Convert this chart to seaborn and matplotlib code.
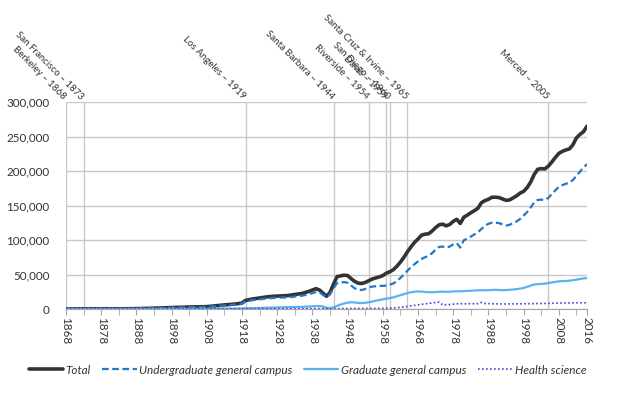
import numpy as np
import pandas as pd
import matplotlib
matplotlib.use("Agg")
import matplotlib.pyplot as plt
import seaborn as sns

years = ([1868, 1873, 1878, 1883, 1888, 1893, 1898, 1903, 1908, 1913, 1916, 1918]
         + [1919, 1921, 1923, 1925, 1927, 1929, 1931, 1933, 1935, 1937, 1939]
         + list(range(1940, 2017)))

total = [40, 300, 330, 250, 500, 1200, 2100, 2900, 3400, 5900, 7200, 8600,
         12500, 14500, 16000, 17500, 18500, 19000, 19500, 21000, 22500, 25500, 29500,
         27500, 23000, 18500, 24000, 36000, 47000, 48000, 49000, 48500, 44000,
         40000, 37500, 37000, 38500, 41000, 43500, 45000, 46500, 48500, 52000,
         54000, 57000, 62000, 68000, 75000, 83000, 90000, 96500, 101500, 107000,
         108500, 109000, 113000, 118000, 122000, 123000, 120500, 122500, 127000, 130000,
         124000, 133000, 136000, 139500, 142500, 146000, 154000, 157000, 159000, 162000,
         162000, 161500, 159500, 157500, 158000, 161000, 164000, 168000, 170500, 176000,
         184000, 195000, 202500, 203500, 203000, 207000, 213000, 219500, 225500, 228500,
         230500, 232000, 238000, 248000, 253000, 257000, 265000]

undergrad = [40, 280, 300, 230, 450, 1100, 1900, 2600, 3000, 5300, 6400, 7600,
             11000, 12800, 14000, 15300, 16000, 16500, 16800, 18000, 19200, 21500, 24500,
             24000, 20500, 17000, 21000, 30000, 37500, 38500, 39000, 38000, 34000,
             30000, 28000, 27500, 29000, 31000, 32500, 33000, 33500, 33500, 34000,
             35500, 37000, 40500, 45000, 50000, 55500, 60500, 65000, 69000, 72500,
             75000, 77000, 81000, 86000, 90000, 90500, 89000, 90500, 93500, 95500,
             89000, 99500, 102000, 105000, 108000, 111000, 116000, 120500, 123500, 125000,
             125000, 124500, 122500, 121000, 122000, 124500, 127000, 130500, 135500, 140500,
             147000, 154500, 158000, 158500, 158000, 161000, 166500, 172000, 177000, 179500,
             181500, 183000, 187000, 193000, 199000, 205000, 210000]

graduate = [0, 0, 20, 30, 60, 100, 150, 250, 350, 550, 700, 800,
            1100, 1300, 1500, 1800, 2100, 2400, 2700, 2900, 3100, 3600, 4200,
            4300, 3500, 1800, 1000, 2500, 4500, 6500, 8000, 9200, 9800,
            9500, 8800, 8600, 9000, 9700, 10800, 12000, 13000, 14000, 15000,
            15800, 16800, 18500, 20000, 21500, 23000, 24300, 25000, 25400, 25200,
            24700, 24300, 24300, 24600, 25000, 25200, 24900, 25000, 25400, 25700,
            25600, 26000, 26200, 26500, 26800, 27000, 27300, 27000, 27300, 27600,
            27800, 27500, 27300, 27500, 27800, 28200, 28800, 29500, 30500, 32000,
            34000, 35500, 36000, 36300, 36800, 37500, 38500, 39300, 40000, 40500,
            40500, 41000, 41800, 42500, 43500, 44300, 45000]

health = [0, 0, 0, 0, 0, 0, 0, 100, 150, 200, 250, 300,
          300, 350, 380, 400, 420, 450, 480, 500, 520, 560, 600,
          600, 550, 500, 500, 500, 600, 650, 700, 700, 750,
          750, 800, 800, 850, 850, 900, 900, 950, 950, 1000,
          1200, 1500, 2000, 2500, 3000, 3700, 4500, 5300, 6000, 6800,
          7500, 8000, 8800, 9500, 10000, 6000, 6200, 6500, 7000, 7500,
          7800, 7500, 7500, 7800, 7600, 7800, 9500, 8000, 7800, 7600,
          7500, 7400, 7300, 7300, 7400, 7400, 7500, 7500, 7600, 7600,
          7700, 7800, 7900, 8000, 8000, 8100, 8300, 8500, 8600, 8700,
          8800, 8800, 8900, 9000, 9000, 9000, 9000]

campus_years = [1868, 1873, 1919, 1944, 1954, 1959, 1960, 1965, 2005]
campus_labels = ["Berkeley – 1868", "San Francisco – 1873", "Los Angeles – 1919",
                 "Santa Barbara – 1944", "Riverside – 1954", "Davis – 1959",
                 "San Diego – 1960", "Santa Cruz & Irvine – 1965", "Merced – 2005"]

tick_years = list(range(1868, 2009, 10)) + [2016]
y_ticks = [0, 50000, 100000, 150000, 200000, 250000, 300000]

series_names = ["Total", "Undergraduate general campus",
                "Graduate general campus", "Health science"]
series_colors = ["#333333", "#1f78c8", "#5ab2ee", "#4a3ee0"]
series_styles = ["-", (0, (3, 1.6)), "-", (0, (1, 1.4))]
series_widths = [2.6, 1.6, 1.6, 1.2]

df = pd.DataFrame({"year": years, "Total": total,
                   "Undergraduate general campus": undergrad,
                   "Graduate general campus": graduate,
                   "Health science": health})

sns.set_style("white")
plt.rcParams["font.family"] = ["Lato", "DejaVu Sans"]

fig = plt.figure(figsize=(6.21, 3.93), dpi=100)
ax = fig.add_axes([66 / 621, 1 - 309 / 393, (587 - 66) / 621, (309 - 102) / 393])

# campus founding lines
for yr in campus_years:
    ax.axvline(yr, color="#c8c8c8", lw=1.0, zorder=0)

for name, col, ls, lw in zip(series_names, series_colors, series_styles, series_widths):
    sns.lineplot(data=df, x="year", y=name, ax=ax, color=col, linestyle=ls,
                 linewidth=lw, label=name, legend=False)

ax.set_xlim(1868, 2016)
ax.set_ylim(0, 300000)
ax.set_yticks(y_ticks)
ax.set_yticklabels([f"{v:,}" for v in y_ticks])
ax.set_xticks(tick_years)
ax.set_xticklabels([str(t) for t in tick_years], rotation=-90)
ax.set_xticks(list(range(1873, 2016, 10)), minor=True)
ax.yaxis.grid(True, color="#c8c8c8", lw=1.0)
ax.set_axisbelow(True)
ax.set_xlabel("")
ax.set_ylabel("")

for side in ["top", "right", "left"]:
    ax.spines[side].set_visible(False)
ax.spines["bottom"].set_color("#a6a6a6")
ax.tick_params(axis="x", which="both", direction="out", length=4, color="#a6a6a6",
               labelsize=8.4, labelcolor="#333333", pad=2, bottom=True)
ax.tick_params(axis="y", length=0, labelsize=8.4, labelcolor="#333333", pad=12)

# rotated campus labels above the plot
for yr, lab in zip(campus_years, campus_labels):
    ax.annotate(lab, xy=(yr, 1.0), xycoords=("data", "axes fraction"),
                xytext=(-1, 3), textcoords="offset points",
                rotation=-45, rotation_mode="anchor", ha="right", va="center",
                fontsize=7, color="#333333", annotation_clip=False)

handles, labels = ax.get_legend_handles_labels()
fig.legend(handles, labels, loc="center", bbox_to_anchor=(0.495, 1 - 370 / 393),
           ncol=4, frameon=False, prop={"style": "italic", "size": 8.5},
           handlelength=2.9, handletextpad=0.2, columnspacing=1.0,
           labelcolor="#333333")

fig.savefig("out.png", dpi=100)
